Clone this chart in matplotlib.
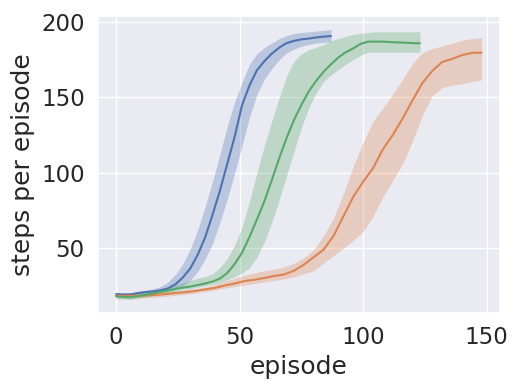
import matplotlib
matplotlib.use("Agg")
import matplotlib.pyplot as plt
import seaborn as sns

sns.set(font_scale=1.5)

# blue run
ep_blue = [0, 3, 6, 9, 12, 15, 18, 21, 24, 27, 30, 33, 36, 39, 42, 45, 48, 51, 54, 57,
           60, 63, 66, 69, 72, 75, 78, 81, 84, 87]
mean_blue = [19.5, 19.2, 19.3, 20.2, 20.8, 21.3, 22.0, 23.3, 26.0, 30.5, 36.5, 45.5, 57, 72, 88, 106, 124, 145, 158, 168,
             174, 179, 183, 186, 187.5, 188.5, 189, 189.8, 190.3, 190.7]
lo_blue = [18.5, 18.2, 18.3, 19.0, 19.6, 20.0, 20.6, 21.3, 22.5, 25.0, 28.5, 34.5, 42.5, 53, 67, 82.7, 100, 118, 137, 152,
           162, 169, 175, 179.5, 182, 184, 185, 186, 186.5, 187]
hi_blue = [20.5, 20.3, 20.5, 21.5, 22.3, 23.0, 24.5, 27.5, 32.5, 39.5, 49.3, 62, 77.3, 94, 112, 131, 147, 160, 172, 179,
           183, 186, 189, 191, 192.5, 193, 193.5, 194, 194.5, 195]

# orange run
ep_orange = [0, 4, 8, 12, 16, 20, 24, 28, 32, 36, 40, 44, 48, 52, 56, 60, 64, 68, 72, 76,
             80, 84, 88, 92, 96, 100, 104, 108, 112, 116, 120, 124, 128, 132, 136, 140, 144, 148]
mean_orange = [18.5, 18.3, 18.4, 18.6, 19.0, 19.5, 20.2, 20.8, 21.6, 22.6, 23.6, 25.2, 26.5, 28.2, 29.0, 30.2, 31.5, 32.5, 35, 39,
               44, 49, 58, 71, 84, 94, 103, 115.5, 125, 136, 148, 159.5, 167.5, 173.5, 175.5, 178, 179.5, 179.7]
lo_orange = [17.0, 16.8, 16.9, 17.1, 17.5, 18.0, 18.7, 19.3, 20.1, 21.1, 22.1, 23.5, 24.5, 25.5, 26.5, 27.5, 28.5, 29.5, 31, 33,
             35, 40, 45, 50, 55, 61, 71, 84, 95, 106, 121, 138, 151, 156.5, 158, 159, 160.5, 161.6]
hi_orange = [20.0, 19.8, 19.9, 20.1, 20.5, 21.0, 21.7, 22.3, 23.1, 24.1, 26, 28, 30, 32, 33.5, 35, 36, 37.5, 40, 43.5,
             49, 58, 70, 86, 104, 120, 134, 143, 152, 162, 172.5, 179.5, 182.5, 184, 186, 187.8, 189, 189.6]

# green run
ep_green = [0, 3, 6, 9, 12, 15, 18, 21, 24, 27, 30, 33, 36, 39, 42, 45, 48, 51, 54, 57,
            60, 63, 66, 69, 72, 75, 78, 81, 84, 87, 90, 93, 96, 99, 102, 105, 108, 111, 114, 117,
            120, 123]
mean_green = [18, 17.6, 17.4, 18.2, 19.0, 20.0, 21.0, 22.0, 23.0, 23.8, 24.5, 25.5, 26.5, 27.8, 29.8, 33.5, 39.5, 47, 57.5, 69,
              81, 95, 109.5, 123, 135, 145, 154, 161, 167, 172, 176.5, 180, 182.5, 185.5, 187, 187, 187, 186.7, 186.5, 186.3,
              186, 185.9]
lo_green = [16.5, 16.1, 15.9, 16.7, 17.5, 18.5, 19.5, 20.5, 21.5, 22.3, 23.0, 24.0, 25.0, 26.0, 27.3, 29.0, 31.0, 33.5, 37, 44,
            54, 67, 82, 98, 114, 130, 143, 153, 160.5, 165, 168.5, 172, 175, 178, 180, 180, 180, 180, 180, 180,
            180, 180]
hi_green = [19.5, 19.1, 18.9, 19.7, 20.5, 21.5, 22.5, 23.5, 25.5, 27, 28.5, 30, 31, 33, 37, 43, 52, 64, 81, 100,
            118, 134, 150, 164, 174, 179, 181.5, 183.2, 185, 187.5, 189, 190.5, 191.8, 192.5, 193, 193.5, 193.5, 193.5, 193.5, 193.5,
            193.5, 193.5]

fig = plt.figure(figsize=(5.18, 3.92), dpi=100)
ax = fig.add_subplot(111)
fig.subplots_adjust(left=0.189, right=0.965, bottom=0.2015, top=0.959)

runs = [(ep_blue, mean_blue, lo_blue, hi_blue),
        (ep_orange, mean_orange, lo_orange, hi_orange),
        (ep_green, mean_green, lo_green, hi_green)]
for i, (x, m, lo, hi) in enumerate(runs):
    c = "C%d" % i
    ax.plot(x, m, color=c, linewidth=1.5)
    ax.fill_between(x, lo, hi, color=c, alpha=0.3, linewidth=0)

ax.set_yticks([50, 100, 150, 200])
ax.set_xticks([0, 50, 100, 150])
ax.set_xlabel("episode")
ax.set_ylabel("steps per episode")
fig.savefig("out.png", dpi=100)
